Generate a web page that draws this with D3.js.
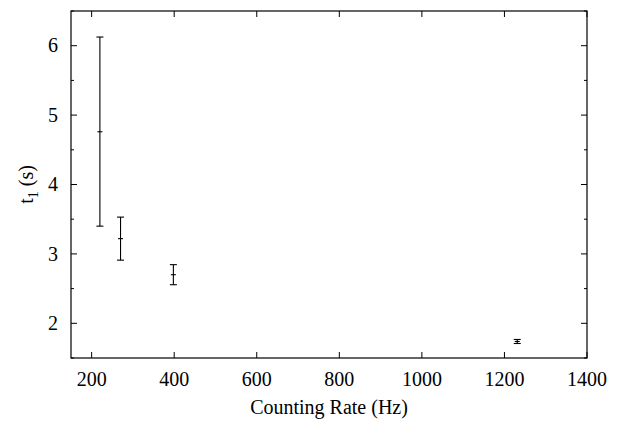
<!DOCTYPE html>
<html>
<head>
  <meta charset="utf-8">
  <title>t1 vs counting rate</title>
  <script src="https://d3js.org/d3.v7.min.js"></script>
  <style>
    body { margin: 0; background: #fff; font-family: "Liberation Serif", "Times New Roman", Times, serif; }
  </style>
</head>
<body>
  <script>
    // Data
    var rate  = [220, 270, 398, 1231];
    var t1    = [4.76, 3.22, 2.70, 1.738];
    var t1Lo  = [3.40, 2.91, 2.556, 1.709];
    var t1Hi  = [6.125, 3.53, 2.845, 1.767];
    var xTicks = [200, 400, 600, 800, 1000, 1200, 1400];
    var yTicks = [2, 3, 4, 5, 6];

    var margin = {top: 11, right: 36, bottom: 63, left: 71};
    var width = 623 - margin.left - margin.right;
    var height = 421 - margin.top - margin.bottom;
    var serif = "'Liberation Serif', 'Times New Roman', Times, serif";

    var svg = d3.select("body").append("svg")
      .attr("width", 623)
      .attr("height", 421)
      .attr("font-family", serif)
      .append("g")
      .attr("transform", "translate(" + margin.left + "," + margin.top + ")");

    var x = d3.scaleLinear().domain([150, 1400]).range([0, width]);
    var y = d3.scaleLinear().domain([1.5, 6.5]).range([height, 0]);
    var yMinor = d3.range(1.5, 6.51, 0.5).filter(function(v) { return v % 1 !== 0; });

    // frame
    svg.append("rect")
      .attr("width", width).attr("height", height)
      .attr("fill", "none").attr("stroke", "#000").attr("stroke-width", 1.2);

    // ticks, mirrored on all sides
    var tk = svg.append("g").attr("stroke", "#000").attr("stroke-width", 1);
    xTicks.forEach(function(v) {
      tk.append("line").attr("x1", x(v)).attr("x2", x(v)).attr("y1", height).attr("y2", height - 6);
      tk.append("line").attr("x1", x(v)).attr("x2", x(v)).attr("y1", 0).attr("y2", 6);
    });
    yTicks.forEach(function(v) {
      tk.append("line").attr("x1", 0).attr("x2", 6).attr("y1", y(v)).attr("y2", y(v));
      tk.append("line").attr("x1", width).attr("x2", width - 6).attr("y1", y(v)).attr("y2", y(v));
    });
    yMinor.forEach(function(v) {
      tk.append("line").attr("x1", 0).attr("x2", 3).attr("y1", y(v)).attr("y2", y(v));
      tk.append("line").attr("x1", width).attr("x2", width - 3).attr("y1", y(v)).attr("y2", y(v));
    });

    // tick labels
    svg.selectAll(".xl").data(xTicks).enter().append("text")
      .attr("x", function(d) { return x(d); })
      .attr("y", height + 28)
      .attr("text-anchor", "middle")
      .attr("font-family", serif)
      .attr("font-size", 20)
      .text(function(d) { return d; });

    svg.selectAll(".yl").data(yTicks).enter().append("text")
      .attr("x", -13)
      .attr("y", function(d) { return y(d); })
      .attr("dy", "0.33em")
      .attr("text-anchor", "end")
      .attr("font-family", serif)
      .attr("font-size", 20)
      .text(function(d) { return d; });

    // axis titles
    svg.append("text")
      .attr("x", width / 2)
      .attr("y", height + 56)
      .attr("text-anchor", "middle")
      .attr("font-family", serif)
      .attr("font-size", 20)
      .text("Counting Rate (Hz)");

    var yt = svg.append("text")
      .attr("transform", "translate(-38," + (height / 2) + ") rotate(-90)")
      .attr("text-anchor", "middle")
      .attr("font-family", serif)
      .attr("font-size", 20);
    yt.append("tspan").text("t");
    yt.append("tspan").attr("dy", 5).attr("font-size", 14).text("1");
    yt.append("tspan").attr("dy", -5).text(" (s)");

    // error bars
    var g = svg.append("g").attr("stroke", "#000").attr("stroke-width", 1.1).attr("fill", "none");
    rate.forEach(function(r, i) {
      var cx = x(r);
      g.append("line").attr("x1", cx).attr("x2", cx).attr("y1", y(t1Lo[i])).attr("y2", y(t1Hi[i]));
      g.append("line").attr("x1", cx - 3.5).attr("x2", cx + 3.5).attr("y1", y(t1Lo[i])).attr("y2", y(t1Lo[i]));
      g.append("line").attr("x1", cx - 3.5).attr("x2", cx + 3.5).attr("y1", y(t1Hi[i])).attr("y2", y(t1Hi[i]));
      g.append("line").attr("x1", cx - 2.5).attr("x2", cx + 2.5).attr("y1", y(t1[i])).attr("y2", y(t1[i]));
    });
  </script>
</body>
</html>
